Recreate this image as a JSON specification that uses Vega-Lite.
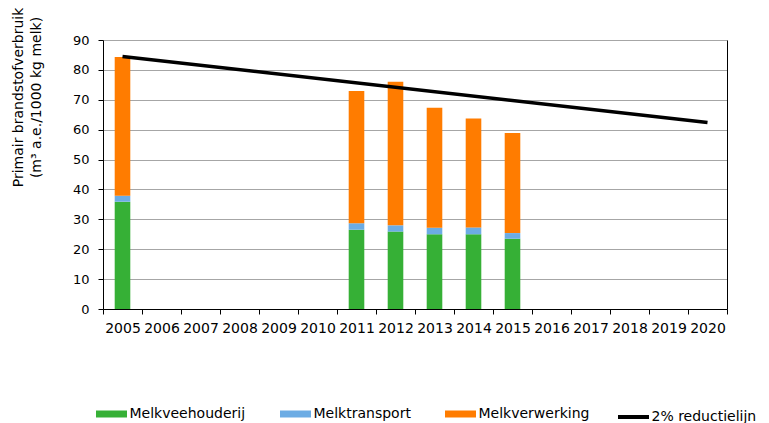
{
  "$schema": "https://vega.github.io/schema/vega-lite/v6.json",
  "autosize": {"type": "none"},
  "width": 624,
  "height": 269,
  "padding": {"left": 103, "top": 40, "right": 42, "bottom": 114},
  "background": "white",
  "config": {
    "view": {"stroke": null},
    "font": "DejaVu Sans",
    "axis": {"labelFont": "DejaVu Sans", "titleFont": "DejaVu Sans", "labelColor": "#000", "titleColor": "#000", "domainColor": "#000", "tickColor": "#000"}
  },
  "datasets": {
    "bars": [
      {"jaar": "2005", "categorie": "Melkveehouderij", "volgorde": 1, "waarde": 35.9},
      {"jaar": "2005", "categorie": "Melktransport", "volgorde": 2, "waarde": 2.0},
      {"jaar": "2005", "categorie": "Melkverwerking", "volgorde": 3, "waarde": 46.4},
      {"jaar": "2011", "categorie": "Melkveehouderij", "volgorde": 1, "waarde": 26.5},
      {"jaar": "2011", "categorie": "Melktransport", "volgorde": 2, "waarde": 2.2},
      {"jaar": "2011", "categorie": "Melkverwerking", "volgorde": 3, "waarde": 44.2},
      {"jaar": "2012", "categorie": "Melkveehouderij", "volgorde": 1, "waarde": 25.9},
      {"jaar": "2012", "categorie": "Melktransport", "volgorde": 2, "waarde": 2.1},
      {"jaar": "2012", "categorie": "Melkverwerking", "volgorde": 3, "waarde": 48.0},
      {"jaar": "2013", "categorie": "Melkveehouderij", "volgorde": 1, "waarde": 25.0},
      {"jaar": "2013", "categorie": "Melktransport", "volgorde": 2, "waarde": 2.2},
      {"jaar": "2013", "categorie": "Melkverwerking", "volgorde": 3, "waarde": 40.1},
      {"jaar": "2014", "categorie": "Melkveehouderij", "volgorde": 1, "waarde": 25.0},
      {"jaar": "2014", "categorie": "Melktransport", "volgorde": 2, "waarde": 2.3},
      {"jaar": "2014", "categorie": "Melkverwerking", "volgorde": 3, "waarde": 36.4},
      {"jaar": "2015", "categorie": "Melkveehouderij", "volgorde": 1, "waarde": 23.5},
      {"jaar": "2015", "categorie": "Melktransport", "volgorde": 2, "waarde": 1.9},
      {"jaar": "2015", "categorie": "Melkverwerking", "volgorde": 3, "waarde": 33.5}
    ],
    "lijn": [
      {"jaar": "2005", "waarde": 84.5},
      {"jaar": "2020", "waarde": 62.4}
    ]
  },
  "layer": [
    {
      "data": {"name": "bars"},
      "mark": {"type": "bar", "width": {"band": 0.4}},
      "encoding": {
        "x": {
          "field": "jaar", "type": "ordinal",
          "scale": {"domain": ["2005","2006","2007","2008","2009","2010","2011","2012","2013","2014","2015","2016","2017","2018","2019","2020"], "paddingInner": 0, "paddingOuter": 0},
          "axis": {"title": null, "labelAngle": 0, "labelFontSize": 14, "tickBand": "extent", "tickSize": 5, "labelPadding": 7, "domainColor": "#000", "grid": false}
        },
        "y": {
          "field": "waarde", "type": "quantitative", "stack": "zero",
          "scale": {"domain": [0, 90]},
          "axis": {
            "title": ["Primair brandstofverbruik", "(m³ a.e./1000 kg melk)"],
            "titleFontSize": 14, "titleFontWeight": "normal", "titleAngle": -90,
            "titleX": -92, "titleY": 57, "titleAlign": "center", "titleBaseline": "top", "titleLineHeight": 18,
            "values": [0,10,20,30,40,50,60,70,80,90],
            "labelFontSize": 13, "tickSize": 5, "labelPadding": 9,
            "grid": true, "gridColor": "#a6a6a6", "gridWidth": 1
          }
        },
        "color": {
          "field": "categorie", "type": "nominal",
          "scale": {"domain": ["Melkveehouderij", "Melktransport", "Melkverwerking", "2% reductielijn"], "range": ["#36b036", "#6cace4", "#ff7c00", "#000000"]},
          "legend": {
            "orient": "none", "legendX": -9, "legendY": 367,
            "direction": "horizontal", "columns": 4, "title": null,
            "symbolType": "stroke", "symbolSize": 961, "symbolStrokeWidth": 7,
            "symbolOffset": 10.5,
            "labelFontSize": 14, "labelFont": "DejaVu Sans", "labelColor": "#000",
            "columnPadding": 20, "labelOffset": 11,
            "encode": {"symbols": {"update": {
              "stroke": {"signal": "scale('color', datum.value)"},
              "strokeWidth": {"signal": "datum.value === '2% reductielijn' ? 4 : 7"},
              "strokeCap": {"value": "butt"},
              "opacity": {"value": 1}
            }}}
          }
        },
        "order": {"field": "volgorde", "type": "quantitative", "sort": "ascending"}
      }
    },
    {
      "data": {"name": "lijn"},
      "mark": {"type": "line", "color": "#000", "strokeWidth": 3.5},
      "encoding": {
        "x": {"field": "jaar", "type": "ordinal"},
        "y": {
          "field": "waarde", "type": "quantitative",
          "scale": {"domain": [0, 90]},
          "axis": {"orient": "right", "title": null, "labels": false, "ticks": false, "grid": false, "domainColor": "#000"}
        }
      }
    }
  ],
  "resolve": {"scale": {"y": "independent"}}
}
